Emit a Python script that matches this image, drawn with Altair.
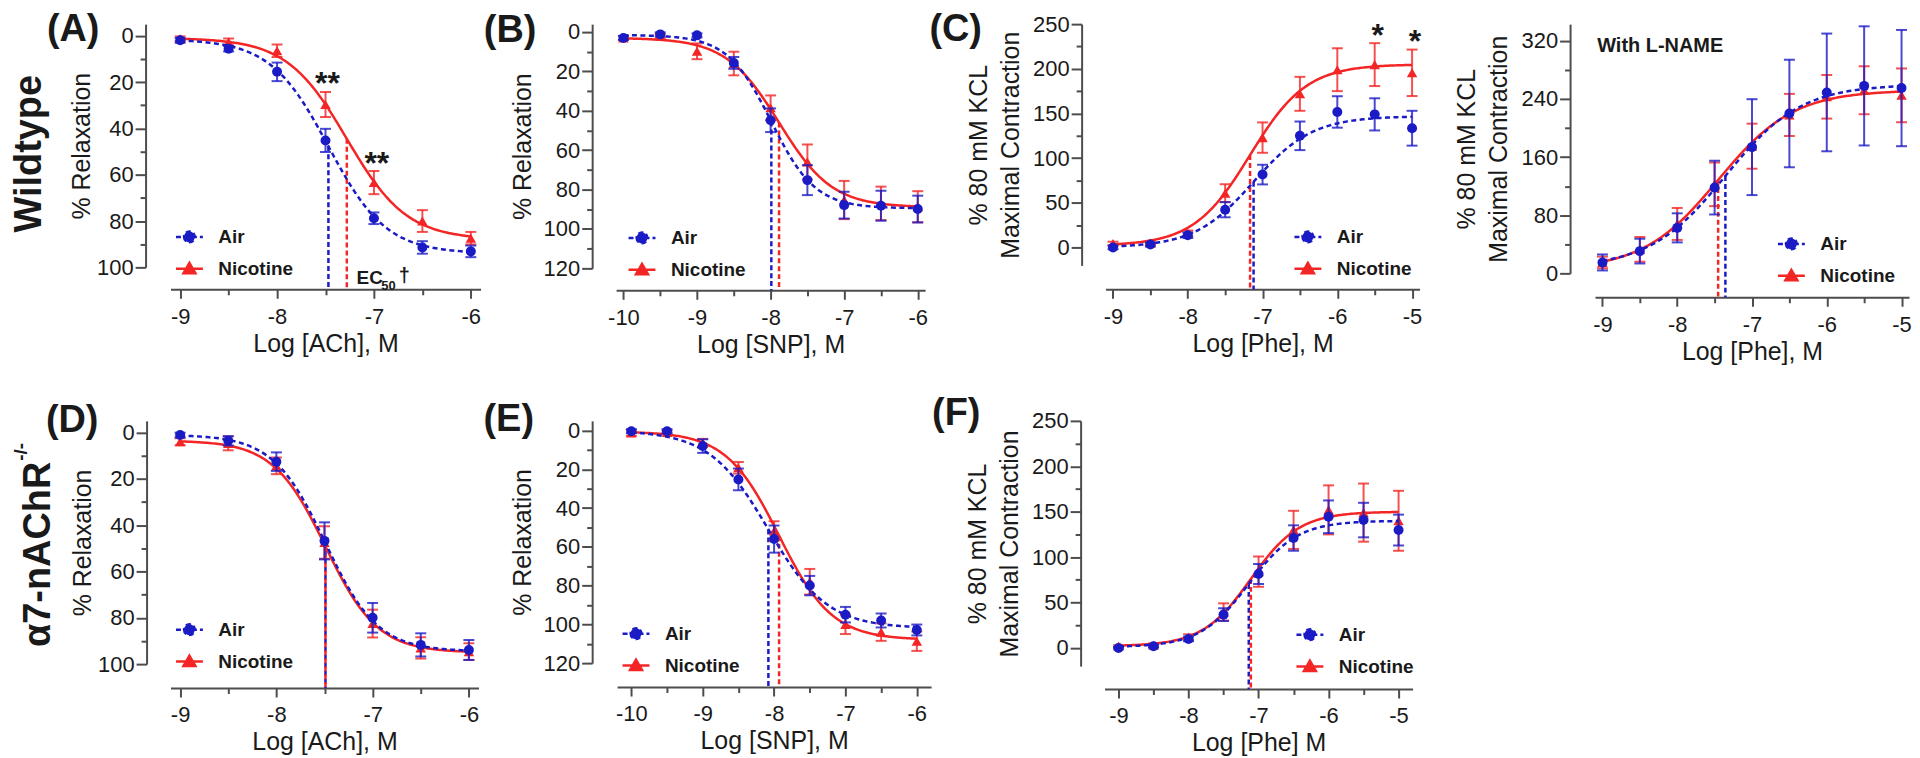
import altair as alt
import pandas as pd

FONT = "Liberation Sans"
BLUE = "#1b1bc6"
RED = "#f42525"
AXC = "#4d4d4d"
TXT = "#1a1a1a"
GROUPS = ["Air", "Nicotine"]

# ---------------- data ----------------
# fit parameters: [bottom, top, logEC50, Hill slope]
A_x = [-9, -8.5, -8, -7.5, -7, -6.5, -6]
A_air = [2.0, 5.6, 15.6, 45.2, 78.8, 91.4, 93.1]
A_air_sem = [1.0, 1.2, 4.0, 5.0, 2.5, 2.7, 2.5]
A_nic = [1.3, 2.7, 6.5, 29.7, 63.4, 80.0, 87.4]
A_nic_sem = [1.0, 1.5, 2.7, 5.4, 5.0, 4.7, 2.7]
A_fit_air = [1.5, 94.0, -7.47, 1.45]
A_fit_nic = [1.0, 88.0, -7.28, 1.40]

B_x = [-10, -9.5, -9, -8.5, -8, -7.5, -7, -6.5, -6]
B_air = [3.0, 1.2, 1.7, 15.7, 44.8, 75.2, 87.9, 88.2, 89.9]
B_air_sem = [1.0, 1.0, 1.0, 3.0, 6.0, 7.6, 6.8, 7.6, 6.8]
B_nic = [3.0, 2.0, 9.8, 16.0, 38.5, 66.0, 85.3, 87.0, 88.7]
B_nic_sem = [1.0, 1.0, 4.0, 6.0, 6.3, 8.9, 9.7, 8.5, 7.9]
B_fit_air = [1.5, 89.5, -7.99, 1.45]
B_fit_nic = [3.0, 89.0, -7.885, 1.20]

C_x = [-9, -8.5, -8, -7.5, -7, -6.5, -6, -5.5, -5]
C_air = [0.0, 3.3, 13.7, 42.3, 81.6, 125.0, 151.7, 149.0, 133.5]
C_air_sem = [2.0, 2.0, 3.0, 8.5, 11.0, 16.0, 17.6, 18.0, 19.5]
C_nic = [4.5, 5.0, 16.0, 60.8, 123.0, 172.0, 199.0, 204.7, 195.5]
C_nic_sem = [2.0, 2.0, 3.0, 10.0, 17.0, 19.0, 24.0, 24.0, 26.0]
C_fit_air = [0.0, 147.0, -7.12, 1.10]
C_fit_nic = [2.0, 205.0, -7.167, 1.15]

L_x = [-9, -8.5, -8, -7.5, -7, -6.5, -6, -5.5, -5]
L_air = [15.0, 30.6, 62.6, 118.0, 173.7, 220.0, 249.0, 258.0, 255.0]
L_air_sem = [11.0, 17.0, 20.0, 37.0, 66.0, 74.0, 81.0, 82.0, 80.0]
L_nic = [15.0, 33.0, 68.0, 122.5, 175.0, 218.0, 243.0, 252.0, 245.0]
L_nic_sem = [8.0, 17.0, 22.0, 30.0, 31.0, 29.0, 30.0, 33.0, 37.0]
L_fit_air = [8.0, 260.0, -7.356, 0.86]
L_fit_nic = [5.0, 252.0, -7.453, 0.86]

D_x = [-9, -8.5, -8, -7.5, -7, -6.5, -6]
D_air = [1.1, 3.6, 12.6, 46.8, 80.0, 91.7, 93.9]
D_air_sem = [1.0, 2.0, 4.0, 8.0, 6.4, 5.0, 4.3]
D_nic = [4.0, 4.7, 14.4, 47.5, 82.5, 93.0, 94.6]
D_nic_sem = [1.5, 3.0, 3.6, 7.0, 6.0, 4.6, 3.6]
D_fit_air = [1.0, 94.5, -7.49, 1.6]
D_fit_nic = [3.5, 95.0, -7.49, 1.6]

E_x = [-10, -9.5, -9, -8.5, -8, -7.5, -7, -6.5, -6]
E_air = [0.3, 0.3, 8.0, 25.2, 56.0, 80.0, 95.0, 98.0, 102.9]
E_air_sem = [1.0, 1.0, 3.5, 5.6, 7.0, 5.0, 4.0, 3.6, 2.8]
E_nic = [1.2, 1.0, 6.3, 19.2, 51.8, 78.0, 100.0, 104.0, 108.7]
E_nic_sem = [1.5, 1.0, 2.0, 3.0, 5.0, 6.6, 5.0, 4.5, 5.0]
E_fit_air = [0.0, 102.0, -8.08, 1.05]
E_fit_nic = [0.5, 108.0, -7.93, 1.17]

F_x = [-9, -8.5, -8, -7.5, -7, -6.5, -6, -5.5, -5]
F_air = [0.0, 1.8, 9.9, 36.7, 81.4, 121.0, 144.4, 140.8, 129.8]
F_air_sem = [1.0, 1.5, 2.5, 7.0, 11.0, 14.0, 18.0, 19.0, 17.0]
F_nic = [2.0, 3.0, 12.0, 39.6, 84.0, 130.0, 152.0, 149.0, 140.0]
F_nic_sem = [1.0, 2.0, 3.0, 9.5, 16.7, 21.0, 27.0, 32.0, 33.0]
F_fit_air = [1.0, 140.0, -7.14, 1.25]
F_fit_nic = [2.0, 150.0, -7.11, 1.25]

# tick values
X_TICKS_ACH = [-9, -8.5, -8, -7.5, -7, -6.5, -6]
X_TICKS_SNP = [-10, -9.5, -9, -8.5, -8, -7.5, -7, -6.5, -6]
X_TICKS_PHE = [-9, -8.5, -8, -7.5, -7, -6.5, -6, -5.5, -5]
Y_TICKS_REL100 = [0, 10, 20, 30, 40, 50, 60, 70, 80, 90, 100]
Y_TICKS_REL120 = [0, 10, 20, 30, 40, 50, 60, 70, 80, 90, 100, 110, 120]
Y_TICKS_KCL250 = [0, 25, 50, 75, 100, 125, 150, 175, 200, 225, 250]
Y_TICKS_KCL320 = [0, 40, 80, 120, 160, 200, 240, 280, 320]

KCL_TITLE = ["% 80 mM KCL", "Maximal Contraction"]

PATH_AIR = "M-1,0H1M-0.4,0A0.4,0.4,0,1,0,0.4,0A0.4,0.4,0,1,0,-0.4,0Z"
PATH_NIC = "M-1,0H1M0,-0.44L0.44,0.32L-0.44,0.32Z"

PANEL_FONT = 38


def make_panel(P):
    xs = alt.Scale(domain=P["xdom"], nice=False, zero=False)
    ys = alt.Scale(domain=P["ydom"], nice=False, zero=False, reverse=P["rev"])
    xaxis = alt.Axis(values=P["xvals"],
                     labelExpr="datum.value % 1 === 0 ? toString(datum.value) : ''",
                     tickSize={"condition": {"test": "datum.value % 1 === 0", "value": 9}, "value": 5.5},
                     offset=P["xoff"], title=P["xtitle"], titlePadding=4, labelPadding=8,
                     labelFlush=False, labelOverlap=False, grid=False)
    ym = P["ymaj"]
    yaxis = alt.Axis(values=P["yvals"],
                     labelExpr=f"datum.value % {ym} === 0 ? toString(datum.value) : ''",
                     tickSize={"condition": {"test": f"datum.value % {ym} === 0", "value": 10.5}, "value": 5.5},
                     offset=P["yoff"], title=P["ytitle"], titlePadding=P["tpad"], labelPadding=2,
                     labelFlush=False, labelOverlap=False, grid=False, titleLineHeight=32)

    def X(f):
        return alt.X(f, type="quantitative", scale=xs, axis=xaxis)

    def Y(f):
        return alt.Y(f, type="quantitative", scale=ys, axis=yaxis)

    cscale = alt.Scale(domain=GROUPS, range=[BLUE, RED])
    xv = P["x"]

    def pts(vals, sems, g):
        return pd.DataFrame({"x": xv, "v": vals,
                             "lo": [v - s for v, s in zip(vals, sems)],
                             "hi": [v + s for v, s in zip(vals, sems)],
                             "group": g})

    air = pts(P["air"], P["air_sem"], "Air")
    nic = pts(P["nic"], P["nic_sem"], "Nicotine")

    fa, fn = P["fa"], P["fn"]
    ec = pd.DataFrame({"group": GROUPS, "ec": [fa[2], fn[2]],
                       "mid": [(fa[0] + fa[1]) / 2, (fn[0] + fn[1]) / 2]})

    def curve(fit, color, dash=None):
        b, t, e, hs = fit
        expr = f"{b} + ({t} - {b}) / (1 + pow(10, ({e} - datum.lx) * {hs}))"
        kw = dict(color=color, strokeWidth=2.5)
        if dash:
            kw["strokeDash"] = dash
        return (alt.Chart(alt.sequence(xv[0], xv[-1] + 0.001, 0.02, as_="lx"))
                .transform_calculate(ly=expr).mark_line(**kw)
                .encode(x=X("lx"), y=Y("ly")))

    layers = []
    layers.append(alt.Chart(ec).mark_rule(strokeWidth=2.5, strokeDash=[5, 3]).encode(
        x=X("ec"), y=Y("mid"), y2=alt.value(P["h"] + P["xoff"]),
        color=alt.Color("group:N", scale=cscale, legend=None)))
    for df, fit, col, dash, shape, size in [
        (nic, fn, RED, None, "triangle-up", 110),
        (air, fa, BLUE, [5, 3.5], "circle", 100),
    ]:
        layers.append(alt.Chart(df).mark_errorbar(ticks=True, size=11, thickness=2, opacity=0.8).encode(
            x=X("x"), y=Y("lo"), y2=alt.Y2("hi"),
            color=alt.Color("group:N", scale=cscale, legend=None)))
        layers.append(curve(fit, col, dash))
        layers.append(alt.Chart(df).mark_point(shape=shape, filled=True, size=size, color=col, opacity=1)
                      .encode(x=X("x"), y=Y("v")))

    # annotations placed in data coordinates
    for a in P.get("ann", []):
        df = pd.DataFrame({"x": [a["x"]], "y": [a["y"]], "t": [a["t"]]})
        layers.append(alt.Chart(df).mark_text(font=FONT, fontSize=a["size"], fontWeight="bold",
                                              align=a.get("align", "center"), baseline="alphabetic",
                                              color=TXT)
                      .encode(x=X("x"), y=Y("y"), text="t:N"))

    # panel letters / row titles, plus blank layout anchors that fix each panel's extent
    labels = list(P.get("labels", []))
    if "ext" in P:
        el, et = P["ext"]
        labels.append(dict(t=" ", x=-el, y=-et + 30, size=PANEL_FONT))
    if "right" in P:
        labels.append(dict(t=" ", x=P["right"], y=P["h"] / 2, size=PANEL_FONT, align="right"))
    for lb in labels:
        df = pd.DataFrame({"t": [lb["t"]]})
        layers.append(alt.Chart(df).mark_text(font=FONT, fontSize=lb["size"], fontWeight="bold",
                                              align=lb.get("align", "left"), baseline="alphabetic",
                                              angle=lb.get("angle", 0), color=TXT)
                      .encode(x=alt.value(lb["x"]), y=alt.value(lb["y"]), text="t:N"))

    lx, ly = P["leg"]
    leg = alt.Legend(title=None, orient="none", legendX=lx, legendY=ly, padding=0, offset=0,
                     labelFont=FONT, labelFontSize=19, labelFontWeight="bold", labelColor=TXT,
                     symbolSize=729, symbolStrokeWidth=2.5, rowPadding=6, labelOffset=14,
                     symbolOpacity=1)

    def sc(r):
        return alt.Scale(domain=GROUPS, range=r)

    layers.append(alt.Chart(pd.DataFrame({"group": pd.Series([], dtype=str)}))
                  .mark_point(filled=True, size=729)
                  .encode(fill=alt.Fill("group:N", scale=sc([BLUE, RED]), legend=leg),
                          stroke=alt.Stroke("group:N", scale=sc([BLUE, RED]), legend=leg),
                          shape=alt.Shape("group:N", scale=sc([PATH_AIR, PATH_NIC]), legend=leg),
                          strokeDash=alt.StrokeDash("group:N", scale=sc([[5, 3], [1, 0]]), legend=leg)))

    return alt.layer(*layers).properties(width=P["w"], height=P["h"])


panels = {
    "A": dict(x=A_x, air=A_air, air_sem=A_air_sem, nic=A_nic, nic_sem=A_nic_sem, fa=A_fit_air, fn=A_fit_nic,
              w=311, h=244, xdom=[-9.1, -5.9], xvals=X_TICKS_ACH, ydom=[-5, 100], rev=True,
              yvals=Y_TICKS_REL100, ymaj=20, ytitle="% Relaxation", xtitle="Log [ACh], M",
              xoff=22, yoff=25, tpad=2, leg=(4, 198.5), ext=(160, 13), right=313.3,
              ann=[dict(x=-7.48, y=25.3, t="**", size=32), dict(x=-6.97, y=59.7, t="**", size=32),
                   dict(x=-7.18, y=107, t="EC", size=19, align="left"),
                   dict(x=-6.925, y=109.6, t="50", size=13, align="left"),
                   dict(x=-6.745, y=106.4, t="\u2020", size=20, align="left")],
              labels=[dict(t="(A)", x=-124, y=17, size=PANEL_FONT),
                      dict(t="Wildtype", x=-130, y=130, size=38, angle=270, align="center")]),
    "B": dict(x=B_x, air=B_air, air_sem=B_air_sem, nic=B_nic, nic_sem=B_nic_sem, fa=B_fit_air, fn=B_fit_nic,
              w=310, h=245, xdom=[-10.1, -5.9], xvals=X_TICKS_SNP, ydom=[-4, 120], rev=True,
              yvals=Y_TICKS_REL120, ymaj=20, ytitle="% Relaxation", xtitle="Log [SNP], M",
              xoff=22, yoff=24, tpad=8, leg=(11, 199.5), ext=(132.7, 12), right=313.3,
              labels=[dict(t="(B)", x=-132.7, y=18, size=PANEL_FONT)]),
    "C": dict(x=C_x, air=C_air, air_sem=C_air_sem, nic=C_nic, nic_sem=C_nic_sem, fa=C_fit_air, fn=C_fit_nic,
              w=315, h=242, xdom=[-9.1, -4.9], xvals=X_TICKS_PHE, ydom=[-20, 250], rev=False,
              yvals=Y_TICKS_KCL250, ymaj=50, ytitle=KCL_TITLE, xtitle="Log [Phe], M",
              xoff=24, yoff=24, tpad=9, leg=(188, 198.5), ext=(176.7, 13), right=318,
              ann=[dict(x=-5.46, y=225.4, t="*", size=32), dict(x=-4.96, y=218.7, t="*", size=32)],
              labels=[dict(t="(C)", x=-176.7, y=17, size=PANEL_FONT)]),
    "L": dict(x=L_x, air=L_air, air_sem=L_air_sem, nic=L_nic, nic_sem=L_nic_sem, fa=L_fit_air, fn=L_fit_nic,
              w=315, h=250, xdom=[-9.1, -4.9], xvals=X_TICKS_PHE, ydom=[0, 343], rev=False,
              yvals=Y_TICKS_KCL320, ymaj=80, ytitle=KCL_TITLE, xtitle="Log [Phe], M",
              xoff=24, yoff=25, tpad=10, leg=(182, 205.5), ext=(173, 5),
              ann=[dict(x=-9.07, y=304.6, t="With L-NAME", size=20, align="left")]),
    "D": dict(x=D_x, air=D_air, air_sem=D_air_sem, nic=D_nic, nic_sem=D_nic_sem, fa=D_fit_air, fn=D_fit_nic,
              w=309, h=244, xdom=[-9.1, -5.9], xvals=X_TICKS_ACH, ydom=[-5, 100], rev=True,
              yvals=Y_TICKS_REL100, ymaj=20, ytitle="% Relaxation", xtitle="Log [ACh], M",
              xoff=24, yoff=24, tpad=2, leg=(4, 194.5), ext=(159, 28), right=314,
              labels=[dict(t="(D)", x=-125, y=11, size=PANEL_FONT),
                      dict(t="\u03b17-nAChR", x=-121, y=41, size=38, angle=270, align="right"),
                      dict(t="-/-", x=-144, y=40, size=19, angle=270, align="left")]),
    "E": dict(x=E_x, air=E_air, air_sem=E_air_sem, nic=E_nic, nic_sem=E_nic_sem, fa=E_fit_air, fn=E_fit_nic,
              w=315, h=243, xdom=[-10.2, -5.8], xvals=X_TICKS_SNP, ydom=[-5, 120], rev=True,
              yvals=Y_TICKS_REL120, ymaj=20, ytitle="% Relaxation", xtitle="Log [SNP], M",
              xoff=24, yoff=25, tpad=8, leg=(4, 198.5), ext=(134, 29), right=316,
              labels=[dict(t="(E)", x=-134, y=10, size=PANEL_FONT)]),
    "F": dict(x=F_x, air=F_air, air_sem=F_air_sem, nic=F_nic, nic_sem=F_nic_sem, fa=F_fit_air, fn=F_fit_nic,
              w=309, h=246, xdom=[-9.2, -4.8], xvals=X_TICKS_PHE, ydom=[-20, 250], rev=False,
              yvals=Y_TICKS_KCL250, ymaj=50, ytitle=KCL_TITLE, xtitle="Log [Phe] M",
              xoff=23, yoff=24, tpad=9, leg=(191, 199.5), ext=(173, 26),
              labels=[dict(t="(F)", x=-173, y=4, size=PANEL_FONT)]),
}

IND = dict(fill="independent", stroke="independent", shape="independent", strokeDash="independent")

row1 = alt.hconcat(*[make_panel(panels[k]) for k in "ABCL"], spacing=0) \
    .resolve_scale(**IND).resolve_legend(**IND)
row2 = alt.hconcat(*[make_panel(panels[k]) for k in "DEF"], spacing=0) \
    .resolve_scale(**IND).resolve_legend(**IND)

chart = (alt.vconcat(row1, row2, spacing=28)
         .resolve_scale(**IND).resolve_legend(**IND)
         .properties(padding={"left": 3, "top": 2, "right": 0, "bottom": 0})
         .configure_view(stroke=None)
         .configure_axis(labelFont=FONT, labelFontSize=22, labelColor=TXT,
                         titleFont=FONT, titleFontSize=25, titleFontWeight="normal", titleColor=TXT,
                         domainColor=AXC, domainWidth=2, tickColor=AXC, tickWidth=2, grid=False))

chart.save("out.html", embed_options={"renderer": "svg", "actions": False})
